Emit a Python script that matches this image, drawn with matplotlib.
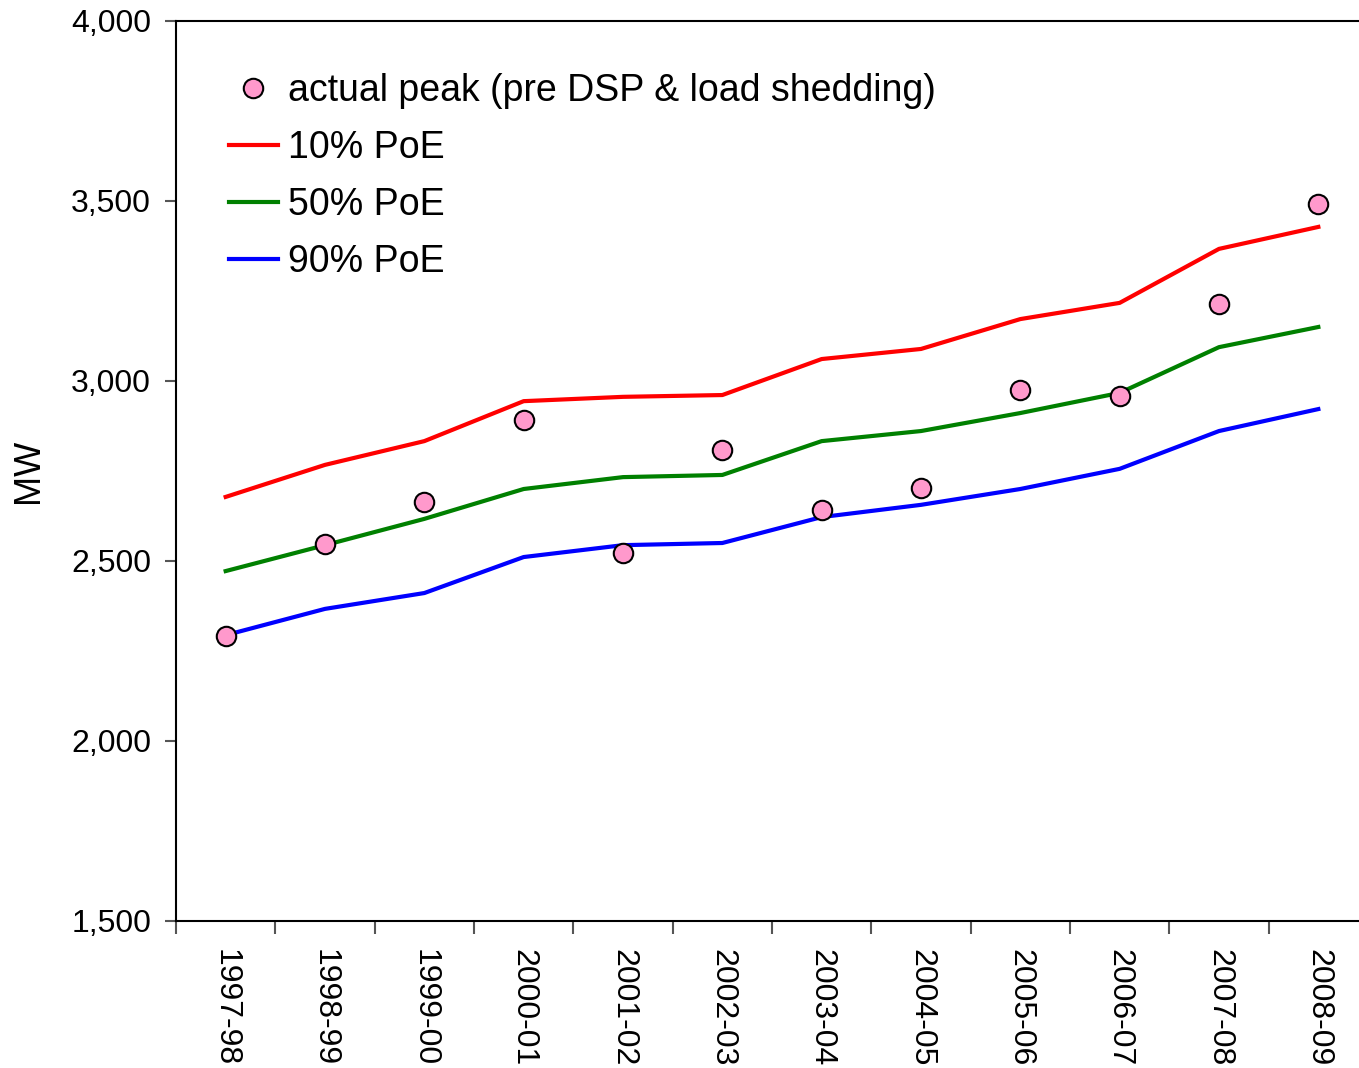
import matplotlib.pyplot as plt

plt.rcParams['font.family'] = ['Liberation Sans', 'DejaVu Sans']

# Data
years = ['1997-98', '1998-99', '1999-00', '2000-01', '2001-02', '2002-03',
         '2003-04', '2004-05', '2005-06', '2006-07', '2007-08', '2008-09']
actual = [2292, 2547, 2664, 2892, 2522, 2808, 2642, 2703, 2975, 2958, 3214, 3492]
poe10 = [2678, 2767, 2833, 2944, 2956, 2961, 3061, 3089, 3172, 3217, 3367, 3428]
poe50 = [2472, 2544, 2617, 2700, 2733, 2739, 2833, 2861, 2911, 2967, 3094, 3150]
poe90 = [2294, 2367, 2411, 2511, 2544, 2550, 2622, 2656, 2700, 2756, 2861, 2922]

fig = plt.figure(figsize=(13.59, 10.68), dpi=100)
ax = fig.add_axes([176 / 1359, 1 - 921 / 1068, 1192 / 1359, 900 / 1068])

x = list(range(len(years)))
ax.plot(x, actual, 'o', color='#FF99CC', markeredgecolor='black',
        markeredgewidth=1.5, markersize=14, linestyle='none',
        label='actual peak (pre DSP & load shedding)', zorder=4)
ax.plot(x, poe10, color='red', lw=3, label='10% PoE')
ax.plot(x, poe50, color='green', lw=3, label='50% PoE')
ax.plot(x, poe90, color='blue', lw=3, label='90% PoE')

ax.set_xlim(-0.5, len(years) - 0.5)
ax.set_ylim(1500, 4000)
ax.set_yticks([1500, 2000, 2500, 3000, 3500, 4000])
ax.set_yticklabels(['1,500', '2,000', '2,500', '3,000', '3,500', '4,000'])
ax.set_xticks(x)
ax.set_xticklabels(years, rotation=270)
ax.set_xticks([i - 0.5 for i in range(len(years) + 1)], minor=True)
ax.tick_params(axis='x', which='major', length=0, labelsize=23, pad=20)
ax.tick_params(axis='x', which='minor', length=9, width=1.5, color='#555555')
ax.tick_params(axis='y', length=8, width=1.5, color='#555555', labelsize=23, pad=10)

for s in ax.spines.values():
    s.set_linewidth(1.5)
ax.spines['right'].set_visible(False)

ax.set_ylabel('MW', fontsize=26, labelpad=18)

ax.legend(loc='upper left', bbox_to_anchor=(0.016, 0.98), frameon=False,
          fontsize=27, handlelength=1.3, handletextpad=0.27, labelspacing=0.56)

fig.savefig('out.png', dpi=100)
